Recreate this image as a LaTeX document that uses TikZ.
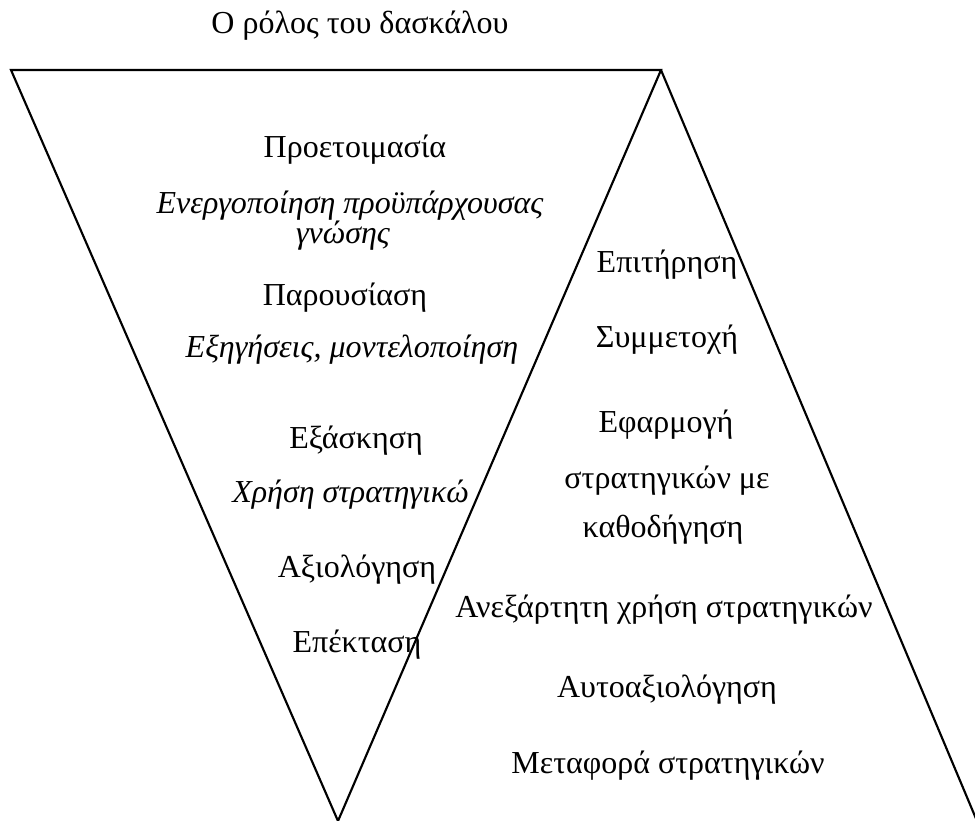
\documentclass[tikz,border=0pt]{standalone}
\usepackage{fontspec}
\setmainfont{Liberation Serif}
\begin{document}
\begin{tikzpicture}[x=0.75pt,y=-0.75pt,
  lbl/.style={anchor=base,inner sep=0pt,font=\fontsize{24}{29}\selectfont},
  ilbl/.style={lbl,font=\fontsize{24}{29}\selectfont\itshape},
  edge/.style={line width=1.6pt,line join=miter,line cap=butt}]
\useasboundingbox (0,0) rectangle (975,821);

% corners of the two triangles
\coordinate (tl) at (11,70);
\coordinate (apex) at (661,70);
\coordinate (bot) at (338,821);
\coordinate (br) at (977,821);

\draw[edge] (bot) -- (tl) -- (apex) -- (bot);
\draw[edge] (apex) -- (br);

% title
\node[lbl] (title) at (360,33) {Ο ρόλος του δασκάλου};

% teacher's side
\node[lbl]  (prep)   at (355,157) {Προετοιμασία};
\node[ilbl] (act1)   at (350,213) {Ενεργοποίηση προϋπάρχουσας};
\node[ilbl] (act2)   at (343,243) {γνώσης};
\node[lbl]  (pres)   at (345,305) {Παρουσίαση};
\node[ilbl] (expl)   at (352,357) {Εξηγήσεις, μοντελοποίηση};
\node[lbl]  (pract)  at (356,448) {Εξάσκηση};
\begin{scope}
  \clip (0,0) -- (467,0) -- (467,821) -- (0,821) -- cycle;
  \node[ilbl,anchor=base west] (use) at (232,502) {Χρήση στρατηγικών};
\end{scope}
\node[lbl]  (eval)   at (357,577) {Αξιολόγηση};
\node[lbl]  (ext)    at (357,652) {Επέκταση};

% student's side
\node[lbl] (mon)    at (667,272) {Επιτήρηση};
\node[lbl] (part)   at (667,347) {Συμμετοχή};
\node[lbl] (app1)   at (666,432) {Εφαρμογή};
\node[lbl] (app2)   at (667,488) {στρατηγικών με};
\node[lbl] (app3)   at (663,537) {καθοδήγηση};
\node[lbl] (indep)  at (664,617) {Ανεξάρτητη χρήση στρατηγικών};
\node[lbl] (self)   at (667,697) {Αυτοαξιολόγηση};
\node[lbl] (trans)  at (668,773) {Μεταφορά στρατηγικών};
\end{tikzpicture}
\end{document}
